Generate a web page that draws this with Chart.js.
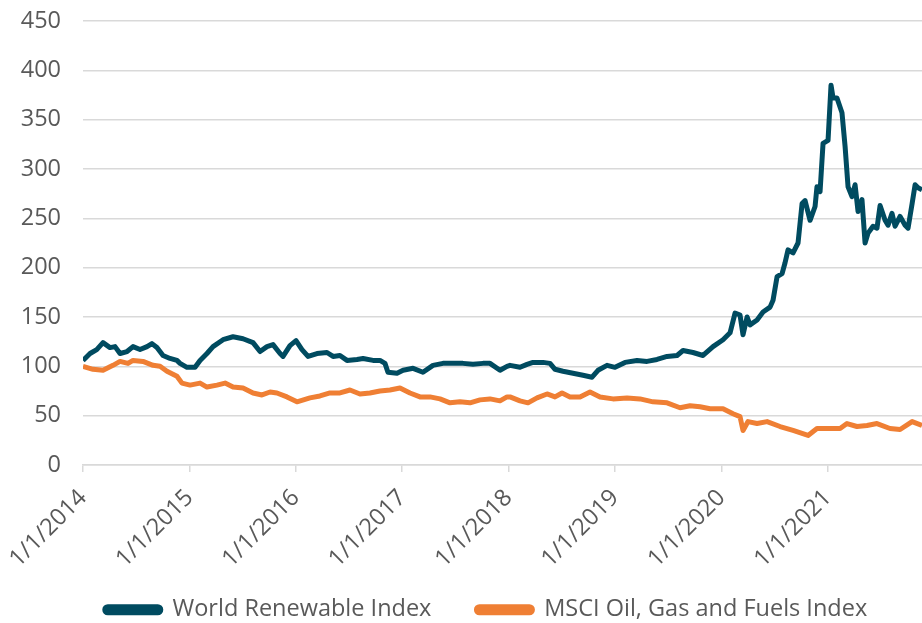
<!DOCTYPE html>
<html>
<head>
<meta charset="utf-8">
<script src="https://cdn.jsdelivr.net/npm/chart.js@4/dist/chart.umd.min.js"></script>
<style>
  html, body { margin: 0; padding: 0; background: #fff; }
  #wrap { width: 922px; height: 623px; }
</style>
</head>
<body>
<div id="wrap"><canvas id="indexChart" width="922" height="623"></canvas></div>
<script>
// x positions as fractional years
const renewYears = [
  2014.000, 2014.066, 2014.129, 2014.188, 2014.254, 2014.301, 2014.348, 2014.414, 2014.470, 2014.536,
  2014.602, 2014.648, 2014.695, 2014.752, 2014.818, 2014.883, 2014.912, 2014.977, 2015.053, 2015.100,
  2015.165, 2015.222, 2015.316, 2015.410, 2015.504, 2015.598, 2015.664, 2015.729, 2015.786, 2015.852,
  2015.880, 2015.945, 2016.002, 2016.058, 2016.115, 2016.199, 2016.293, 2016.350, 2016.415, 2016.481,
  2016.575, 2016.632, 2016.726, 2016.791, 2016.838, 2016.866, 2016.951, 2017.008, 2017.102, 2017.195,
  2017.289, 2017.383, 2017.477, 2017.571, 2017.665, 2017.759, 2017.825, 2017.919, 2017.985, 2018.013,
  2018.107, 2018.173, 2018.229, 2018.323, 2018.389, 2018.436, 2018.511, 2018.605, 2018.699, 2018.784,
  2018.840, 2018.925, 2019.000, 2019.094, 2019.207, 2019.301, 2019.395, 2019.489, 2019.583, 2019.639,
  2019.733, 2019.827, 2019.921, 2020.015, 2020.081, 2020.128, 2020.175, 2020.203, 2020.241, 2020.269,
  2020.335, 2020.391, 2020.457, 2020.485, 2020.523, 2020.570, 2020.598, 2020.626, 2020.673, 2020.720,
  2020.758, 2020.786, 2020.833, 2020.880, 2020.898, 2020.927, 2020.955, 2021.002, 2021.030, 2021.049,
  2021.086, 2021.133, 2021.162, 2021.190, 2021.227, 2021.256, 2021.284, 2021.321, 2021.350, 2021.378,
  2021.425, 2021.462, 2021.491, 2021.538, 2021.566, 2021.603, 2021.632, 2021.679, 2021.726, 2021.754,
  2021.792, 2021.820, 2021.848, 2021.885
];
const renewValues = [
  106, 113, 117, 124, 119, 120, 113, 115, 120, 117,
  120, 123, 119, 111, 108, 106, 103, 99, 99, 106,
  113, 120, 127, 130, 128, 124, 115, 120, 122, 113,
  110, 121, 126, 117, 110, 113, 114, 110, 111, 106,
  107, 108, 106, 106, 103, 94, 93, 96, 98, 94,
  101, 103, 103, 103, 102, 103, 103, 96, 100, 101,
  99, 102, 104, 104, 103, 97, 95, 93, 91, 89,
  96, 101, 99, 104, 106, 105, 107, 110, 111, 116,
  114, 111, 120, 127, 134, 154, 152, 132, 150, 142,
  147, 155, 160, 167, 191, 194, 205, 218, 215, 225,
  265, 268, 248, 262, 282, 277, 326, 329, 385, 372,
  372, 357, 323, 282, 272, 284, 257, 269, 225, 235,
  242, 240, 263, 248, 243, 255, 242, 252, 243, 240,
  265, 284, 281, 279
];

const oilYears = [
  2014.000, 2014.094, 2014.188, 2014.282, 2014.348, 2014.423, 2014.470, 2014.564, 2014.658, 2014.724,
  2014.789, 2014.883, 2014.930, 2015.006, 2015.100, 2015.165, 2015.259, 2015.335, 2015.410, 2015.504,
  2015.598, 2015.682, 2015.758, 2015.823, 2015.917, 2016.011, 2016.133, 2016.227, 2016.321, 2016.415,
  2016.509, 2016.603, 2016.697, 2016.791, 2016.885, 2016.979, 2017.073, 2017.167, 2017.261, 2017.355,
  2017.449, 2017.543, 2017.637, 2017.731, 2017.825, 2017.919, 2017.985, 2018.013, 2018.107, 2018.182,
  2018.267, 2018.361, 2018.436, 2018.502, 2018.577, 2018.671, 2018.765, 2018.859, 2018.981, 2019.113,
  2019.235, 2019.357, 2019.489, 2019.611, 2019.705, 2019.799, 2019.893, 2020.015, 2020.109, 2020.175,
  2020.203, 2020.250, 2020.335, 2020.429, 2020.551, 2020.673, 2020.814, 2020.898, 2021.021, 2021.115,
  2021.180, 2021.274, 2021.368, 2021.462, 2021.584, 2021.679, 2021.792, 2021.885
];
const oilValues = [
  100, 97, 96, 101, 105, 103, 106, 105, 101, 100,
  95, 90, 83, 81, 83, 79, 81, 83, 79, 78,
  73, 71, 74, 73, 69, 64, 68, 70, 73, 73,
  76, 72, 73, 75, 76, 78, 73, 69, 69, 67,
  63, 64, 63, 66, 67, 65, 69, 69, 65, 63,
  68, 72, 69, 73, 69, 69, 74, 69, 67, 68,
  67, 64, 63, 58, 60, 59, 57, 57, 52, 49,
  35, 44, 42, 44, 39, 35, 30, 37, 37, 37,
  42, 39, 40, 42, 37, 36, 44, 40
];

const tickYears = [2014, 2015, 2016, 2017, 2018, 2019, 2020, 2021];
const tickLabels = ['1/1/2014', '1/1/2015', '1/1/2016', '1/1/2017', '1/1/2018', '1/1/2019', '1/1/2020', '1/1/2021'];

const FONT = "'Open Sans', sans-serif";
const GRID = '#d9d9d9';
const TEXT = '#595959';

// the legend sits a little right of centre and close to the bottom edge in the original;
// stretch its box upward (it clips to its own box) and slide it right
const legendShift = {
  id: 'legendShift',
  afterLayout(chart) {
    const lg = chart.legend;
    if (!lg) return;
    lg.left += 25; lg.right += 25;
    lg.top -= 30;
  }
};

const ctx = document.getElementById('indexChart').getContext('2d');
new Chart(ctx, {
  type: 'line',
  data: {
    datasets: [
      {
        label: 'World Renewable Index',
        data: renewYears.map((x, i) => ({ x: x, y: renewValues[i] })),
        borderColor: '#004b60',
        backgroundColor: '#004b60',
        borderWidth: 5,
        pointRadius: 0,
        tension: 0,
        borderJoinStyle: 'round'
      },
      {
        label: 'MSCI Oil, Gas and Fuels Index',
        data: oilYears.map((x, i) => ({ x: x, y: oilValues[i] })),
        borderColor: '#ef7f34',
        backgroundColor: '#ef7f34',
        borderWidth: 5,
        pointRadius: 0,
        tension: 0,
        borderJoinStyle: 'round'
      }
    ]
  },
  plugins: [legendShift],
  options: {
    responsive: false,
    animation: false,
    layout: { padding: { top: 21, right: 0, bottom: 0, left: 0 } },
    plugins: {
      tooltip: { enabled: false },
      legend: {
        position: 'bottom',
        maxHeight: 40,
        labels: {
          color: TEXT,
          font: { family: FONT, size: 23.5 },
          boxWidth: 56,
          boxHeight: 6,
          useBorderRadius: true,
          borderRadius: 3,
          padding: 45
        }
      }
    },
    scales: {
      x: {
        type: 'linear',
        min: 2014,
        max: 2021.885,
        afterBuildTicks: s => { s.ticks = tickYears.map(v => ({ value: v })); },
        afterFit: s => { s.height = 118; s.paddingLeft = 0; s.paddingRight = 0; },
        grid: { display: true, drawOnChartArea: false, drawTicks: true, tickLength: 7, color: GRID, lineWidth: 1.5 },
        border: { display: true, color: GRID, width: 1.5 },
        ticks: {
          autoSkip: false,
          maxRotation: 45,
          minRotation: 45,
          padding: 12,
          color: TEXT,
          font: { family: FONT, size: 23.5 },
          callback: (v, i) => tickLabels[i]
        }
      },
      y: {
        min: 0,
        max: 450,
        afterFit: s => { s.width = 83; s.paddingTop = 0; s.paddingBottom = 0; },
        grid: { color: GRID, lineWidth: 1.5, drawTicks: false },
        border: { display: false },
        ticks: {
          stepSize: 50,
          padding: 22,
          color: TEXT,
          font: { family: FONT, size: 23.5 }
        }
      }
    }
  }
});
</script>
</body>
</html>
